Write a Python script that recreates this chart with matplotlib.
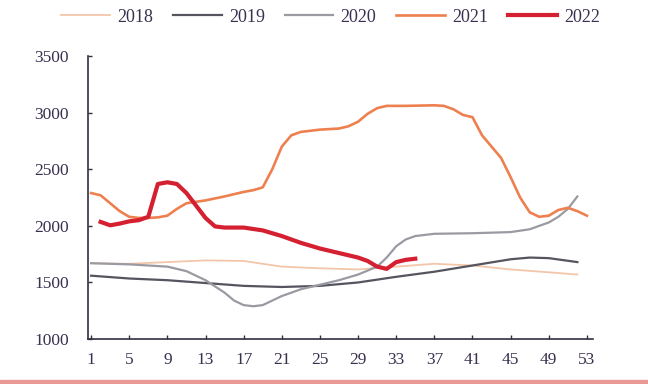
import matplotlib
matplotlib.use("Agg")
import matplotlib.pyplot as plt
from matplotlib.patches import Rectangle

# weekly values
w2018 = [1, 5, 9, 13, 17, 21, 25, 29, 33, 37, 41, 45, 49, 52]
v2018 = [1670, 1665, 1680, 1695, 1690, 1640, 1625, 1615, 1640, 1665, 1650, 1615, 1590, 1570]

w2019 = [1, 5, 9, 13, 17, 21, 25, 29, 33, 37, 41, 45, 47, 49, 52]
v2019 = [1560, 1535, 1520, 1495, 1470, 1460, 1470, 1500, 1550, 1595, 1650, 1705, 1720, 1715, 1680]

w2020 = [1, 5, 9, 11, 13, 15, 16, 17, 18, 19, 20, 21, 23, 25, 27, 29, 31, 32, 33, 34, 35,
         37, 41, 45, 47, 49, 50, 51, 52]
v2020 = [1670, 1660, 1640, 1600, 1520, 1410, 1340, 1300, 1290, 1300, 1340, 1380, 1440, 1480,
         1520, 1570, 1640, 1720, 1820, 1880, 1910, 1930, 1935, 1945, 1970, 2030, 2080, 2150, 2260]

w2021 = [1, 2, 3, 4, 5, 6, 7, 8, 9, 10, 11, 13, 15, 17, 18, 19, 20, 21, 22, 23, 25, 27, 28,
         29, 30, 31, 32, 34, 37, 38, 39, 40, 41, 42, 43, 44, 45, 46, 47, 48, 49, 50, 51, 52, 53]
v2021 = [2290, 2270, 2200, 2130, 2080, 2070, 2070, 2075, 2090, 2150, 2200, 2225, 2260, 2300,
         2315, 2340, 2500, 2700, 2800, 2830, 2850, 2860, 2880, 2920, 2990, 3040, 3060, 3060,
         3065, 3060, 3030, 2980, 2960, 2800, 2700, 2600, 2430, 2250, 2120, 2080, 2090, 2140,
         2160, 2130, 2090]

w2022 = [2, 3, 4, 5, 6, 7, 8, 9, 10, 11, 12, 13, 14, 15, 17, 19, 21, 23, 25, 27, 29, 30,
         31, 32, 33, 34, 35]
v2022 = [2035, 2005, 2020, 2040, 2050, 2080, 2370, 2385, 2370, 2290, 2180, 2070, 1995, 1985,
         1985, 1960, 1910, 1850, 1800, 1760, 1720, 1690, 1640, 1620, 1680, 1700, 1710]

xticks = list(range(1, 54, 4))
yticks = [1000, 1500, 2000, 2500, 3000, 3500]

txt = "#3a3050"
plt.rcParams['font.family'] = ['Liberation Serif', 'DejaVu Serif']

fig = plt.figure(figsize=(6.48, 3.84), dpi=100)
ax = fig.add_axes([0.136, 0.117, 0.779, 0.737])

ax.plot(w2018, v2018, color="#f3c6aa", lw=1.3, label="2018")
ax.plot(w2019, v2019, color="#55555f", lw=1.6, label="2019")
ax.plot(w2020, v2020, color="#9a9aa3", lw=1.6, label="2020")
ax.plot(w2021, v2021, color="#ee8050", lw=1.9, label="2021")
ax.plot(w2022, v2022, color="#d42030", lw=3.0, label="2022")

ax.set_xlim(0.69, 53.63)
ax.set_ylim(1000, 3500)
ax.set_xticks(xticks)
ax.set_yticks(yticks)
ax.tick_params(direction="in", length=3, width=1, colors="#303040",
               labelcolor=txt, labelsize=12.5)
ax.tick_params(axis="x", pad=9)
ax.tick_params(axis="y", pad=14)
for s in ["top", "right"]:
    ax.spines[s].set_visible(False)
for s in ["left", "bottom"]:
    ax.spines[s].set_color("#303040")
    ax.spines[s].set_linewidth(1.2)

leg = fig.legend(loc="center", bbox_to_anchor=(0.51, 0.955), ncol=5, frameon=False,
                 fontsize=13, handlelength=2.7, columnspacing=1.1, handletextpad=0.4)
for t in leg.get_texts():
    t.set_color(txt)

# pink strip along the bottom edge of the image
fig.patches.append(Rectangle((0, 0), 1, 0.011, transform=fig.transFigure,
                             color="#e99a96", zorder=0))

fig.savefig("out.png", dpi=100)
